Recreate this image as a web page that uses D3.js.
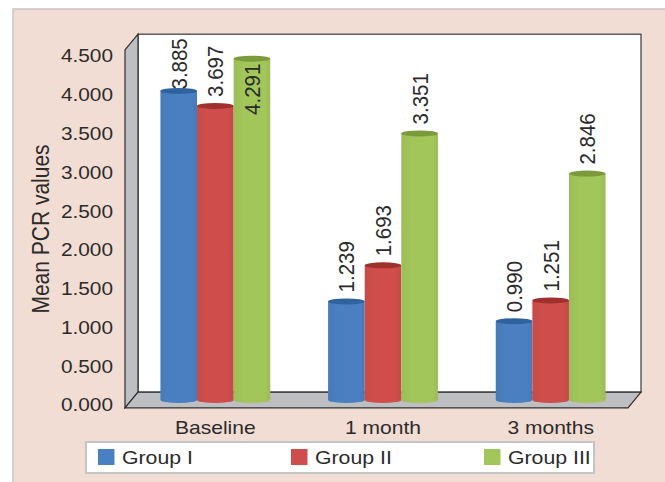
<!DOCTYPE html>
<html>
<head>
<meta charset="utf-8">
<script src="https://cdn.jsdelivr.net/npm/d3@7"></script>
<style>
  body { margin: 0; background: #fff; }
  svg { display: block; font-family: "Liberation Sans", Arial, sans-serif; }
</style>
</head>
<body>
<svg id="chart" width="665" height="482"></svg>
<script>
// data
var categories = ["Baseline", "1 month", "3 months"];
var groups = ["Group I", "Group II", "Group III"];
var groupI = [3.885, 1.239, 0.990];
var groupII = [3.697, 1.693, 1.251];
var groupIII = [4.291, 3.351, 2.846];
var yTicks = [0, 0.5, 1, 1.5, 2, 2.5, 3, 3.5, 4, 4.5];

var series = [groupI, groupII, groupIII];
var colors = ["#4a80c2", "#cf4e4b", "#a3c65b"];
var tops = ["#2f639f", "#a0302d", "#7a9a3c"];
var ink = "#2b2b2b";

var svg = d3.select("#chart");
var stretch = 1.12;   // text in the picture is a bit wide
var dx = 6.5, dy = 7.8;  // half depth of the 3d box

// pink panel
svg.append("rect")
  .attr("x", 13).attr("y", 9).attr("width", 665).attr("height", 480)
  .attr("fill", "#f2ddd4").attr("stroke", "#c6c6c6").attr("stroke-width", 1.5);

var x0 = d3.scaleBand().domain(categories).range([131.5, 634.5]);
var x1 = d3.scaleBand().domain(groups).range([0, x0.bandwidth()])
  .paddingInner(0).paddingOuter(0.79);
var y = d3.scaleLinear().domain([0, 4.5]).range([400, 42]);
var yLab = d3.scaleLinear().domain([0, 4.5]).range([405, 56]);

var xl = x0.range()[0], xr = x0.range()[1];
var y0 = y(0), yt = y(4.5);

// back wall
svg.append("rect")
  .attr("x", xl + dx).attr("y", yt - dy)
  .attr("width", xr - xl).attr("height", y0 - yt)
  .attr("fill", "#fff").attr("stroke", "#3a3a3a").attr("stroke-width", 1.2);

var line = d3.line();
// left wall
svg.append("path")
  .attr("d", line([[xl - dx, yt + dy], [xl + dx, yt - dy], [xl + dx, y0 - dy], [xl - dx, y0 + dy]]) + "Z")
  .attr("fill", "#bebfc3").attr("stroke", "#2e2e2e").attr("stroke-width", 1.2);
// floor
svg.append("path")
  .attr("d", line([[xl - dx, y0 + dy], [xl + dx, y0 - dy], [xr + dx, y0 - dy], [xr - dx, y0 + dy]]) + "Z")
  .attr("fill", "#bebfc3").attr("stroke", "#2e2e2e").attr("stroke-width", 1.2);

// gradients for cylinders (kept soft, the picture is nearly flat)
var defs = svg.append("defs");
colors.forEach(function(c, j) {
  var g = defs.append("linearGradient").attr("id", "cyl" + j)
    .attr("x1", "0").attr("x2", "1").attr("y1", "0").attr("y2", "0");
  var base = d3.color(c);
  g.append("stop").attr("offset", "0").attr("stop-color", base.darker(0.12));
  g.append("stop").attr("offset", "0.3").attr("stop-color", base);
  g.append("stop").attr("offset", "0.85").attr("stop-color", base);
  g.append("stop").attr("offset", "1").attr("stop-color", base.darker(0.15));
});

var bw = x1.bandwidth(), ry = 3;
var bars = [];
categories.forEach(function(cat, i) {
  groups.forEach(function(grp, j) {
    bars.push({ cat: cat, grp: grp, j: j, v: series[j][i] });
  });
});

var gBar = svg.selectAll(".bar").data(bars).enter().append("g").attr("class", "bar");
gBar.append("path")
  .attr("d", function(d) {
    var x = x0(d.cat) + x1(d.grp), t = y(d.v);
    return "M" + x + "," + t + "L" + x + "," + y0 +
      "A" + bw / 2 + "," + ry + " 0 0 0 " + (x + bw) + "," + y0 +
      "L" + (x + bw) + "," + t + "Z";
  })
  .attr("fill", function(d) { return "url(#cyl" + d.j + ")"; });
gBar.append("ellipse")
  .attr("cx", function(d) { return x0(d.cat) + x1(d.grp) + bw / 2; })
  .attr("cy", function(d) { return y(d.v); })
  .attr("rx", bw / 2).attr("ry", ry)
  .attr("fill", function(d) { return tops[d.j]; });

// value labels, rotated; pushed down or inside when there is no room above
var plotTop = yt - dy;
gBar.append("text")
  .attr("font-size", "20.5px").attr("fill", ink)
  .attr("dominant-baseline", "central")
  .text(function(d) { return d3.format(".3f")(d.v); })
  .each(function(d) {
    var len = this.getComputedTextLength();
    var cx = x0(d.cat) + x1(d.grp) + bw / 2, t = y(d.v);
    var anchor, ty;
    if (t - plotTop < len) {
      anchor = "end"; ty = t + 5;
    } else {
      anchor = "start"; ty = Math.max(t - 9, plotTop + 4 + len);
    }
    d3.select(this).attr("text-anchor", anchor)
      .attr("transform", "translate(" + cx + "," + ty + ") scale(" + stretch + ",1) rotate(-90)");
  });

// y axis
var yAxis = svg.append("g").attr("transform", "translate(" + (xl - dx) + ",0)")
  .call(d3.axisLeft(yLab).tickValues(yTicks).tickFormat(d3.format(".3f")).tickSize(0));
yAxis.select(".domain").remove();
yAxis.selectAll("text")
  .attr("x", -10.7).attr("font-size", "18.6px").attr("fill", ink)
  .attr("font-family", null)
  .attr("transform", "scale(" + stretch + ",1)");

// x axis
var xAxis = svg.append("g").attr("transform", "translate(0," + (y0 + dy) + ")")
  .call(d3.axisBottom(x0).tickSize(0));
xAxis.select(".domain").remove();
xAxis.selectAll("text")
  .attr("y", 20).attr("dy", "0.35em").attr("font-size", "18.8px").attr("fill", ink)
  .attr("font-family", null)
  .attr("transform", "scale(" + stretch + ",1)");

// axis title
svg.append("text")
  .attr("transform", "translate(41,229) scale(" + stretch + ",1) rotate(-90)")
  .attr("text-anchor", "middle").attr("dominant-baseline", "central")
  .attr("font-size", "21px").attr("fill", ink)
  .text("Mean PCR values");

// legend
svg.append("rect")
  .attr("x", 86).attr("y", 442).attr("width", 508).attr("height", 31)
  .attr("fill", "#fff").attr("stroke", "#c4c4c4").attr("stroke-width", 2);
var xLeg = d3.scalePoint().domain(groups).range([98, 484]);
var leg = svg.selectAll(".leg").data(groups).enter().append("g").attr("class", "leg");
leg.append("rect")
  .attr("x", function(d) { return xLeg(d); }).attr("y", 449)
  .attr("width", 16.5).attr("height", 16)
  .attr("fill", function(d, j) { return colors[j]; });
leg.append("text")
  .attr("transform", function(d) { return "translate(" + (xLeg(d) + 24) + ",457) scale(" + stretch + ",1)"; })
  .attr("dominant-baseline", "central")
  .attr("font-size", "19px").attr("fill", ink)
  .text(function(d) { return d; });
</script>
</body>
</html>
